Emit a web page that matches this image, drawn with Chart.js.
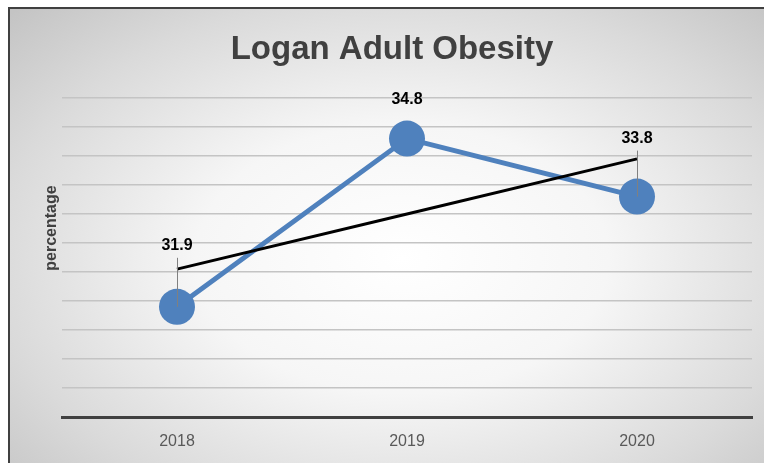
<!DOCTYPE html>
<html>
<head>
<meta charset="utf-8">
<script src="https://cdn.jsdelivr.net/npm/chart.js@4.4.1/dist/chart.umd.min.js"></script>
<style>
	html, body { margin: 0; padding: 0; background: #ffffff; overflow: hidden; }
	#frame {
		position: absolute; left: 8px; top: 7px; width: 754px; height: 454px;
		border: 2px solid #404040; border-right: none; border-bottom: none;
		background: radial-gradient(ellipse 72% 78% at 52% 55%, #ffffff 0%, #f6f6f6 38%, #dadada 75%, #c4c4c4 100%);
	}
	#wrap { position: absolute; left: 0; top: 0; width: 764px; height: 463px; }
</style>
</head>
<body>
<div id="frame"></div>
<div id="wrap"><canvas id="obesity" width="764" height="463"></canvas></div>
<script type="text/javascript">
	/*jshint esversion: 6 */
	var chartTitle = 'Logan Adult Obesity';
	var years = ['2018', '2019', '2020'];
	var obesity = [31.9, 34.8, 33.8];
	// linear trend
	var trend = [32.55, 33.5, 34.45];
	var labelText = ['31.9', '34.8', '33.8'];
	// label offsets above the marker (moved labels), with leader line flag
	var labelLift = [61, 39, 58];
	var labelLeader = [true, false, true];
	var yTitle = 'percentage';

	var dataLabels = {
		id: 'dataLabels',
		afterDatasetsDraw: function(chart) {
			var ctx = chart.ctx;
			var meta = chart.getDatasetMeta(0);
			var area = chart.chartArea;
			ctx.save();
			for (var i = 0; i < meta.data.length; i++) {
				var pt = meta.data[i];
				var ly = pt.y - labelLift[i];
				if (labelLeader[i]) {
					ctx.strokeStyle = '#808080';
					ctx.lineWidth = 1;
					ctx.beginPath();
					ctx.moveTo(pt.x + 0.5, ly + 12);
					ctx.lineTo(pt.x + 0.5, pt.y);
					ctx.stroke();
				}
				ctx.fillStyle = '#000000';
				ctx.font = 'bold 16px "Liberation Sans", Arial, sans-serif';
				ctx.textAlign = 'center';
				ctx.textBaseline = 'middle';
				ctx.fillText(labelText[i], pt.x, ly);
			}
			// chart title, centred over the whole frame
			ctx.fillStyle = '#404040';
			ctx.font = 'bold 33px "Liberation Sans", Arial, sans-serif';
			ctx.fillText(chartTitle, (area.left + area.right) / 2 - 15, area.top - 48);
			// axis title, placed like the original (not centred on the axis)
			ctx.translate(area.left - 10, area.top + 130);
			ctx.rotate(-Math.PI / 2);
			ctx.font = 'bold 16px "Liberation Sans", Arial, sans-serif';
			ctx.fillText(yTitle, 0, 0);
			ctx.restore();
		}
	};

	var chart = new Chart(document.getElementById('obesity').getContext('2d'), {
		type: 'line',
		data: {
			labels: years,
			datasets: [{
				label: 'Obesity',
				data: obesity,
				borderColor: '#4F81BD',
				backgroundColor: '#4F81BD',
				borderWidth: 5,
				pointRadius: 18,
				pointHoverRadius: 18,
				pointBorderWidth: 0,
				pointBackgroundColor: '#4F81BD',
				order: 2
			}, {
				label: 'Trend',
				data: trend,
				borderColor: '#000000',
				borderWidth: 3,
				pointRadius: 0,
				fill: false,
				order: 1
			}]
		},
		options: {
			responsive: false,
			animation: false,
			layout: { autoPadding: false, padding: { top: 98, left: 0, right: 12, bottom: 0 } },
			plugins: {
				legend: { display: false },
				tooltip: { enabled: false },
				title: { display: false }
			},
			scales: {
				x: {
					offset: true,
					afterFit: function(scale) { scale.height = 46; },
					grid: { display: false, drawTicks: false },
					border: { display: true, color: '#404040', width: 3 },
					ticks: {
						color: '#595959',
						padding: 15,
						font: { family: '"Liberation Sans", Arial, sans-serif', size: 16 }
					}
				},
				y: {
					min: 30,
					max: 35.5,
					afterFit: function(scale) { scale.width = 62; },
					ticks: { display: false, stepSize: 0.5 },
					border: { display: false },
					grid: {
						drawTicks: false,
						lineWidth: 1.5,
						color: function(c) { return c.tick && c.tick.value === 30 ? 'rgba(0,0,0,0)' : '#c4c4c4'; }
					}
				}
			}
		},
		plugins: [dataLabels]
	});
</script>
</body>
</html>
